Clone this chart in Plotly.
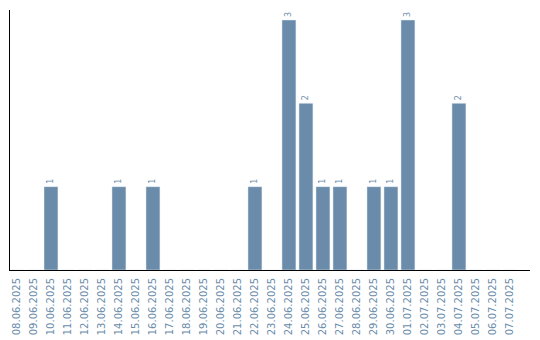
import plotly.graph_objects as go

dates = ["08.06.2025","09.06.2025","10.06.2025","11.06.2025","12.06.2025","13.06.2025",
         "14.06.2025","15.06.2025","16.06.2025","17.06.2025","18.06.2025","19.06.2025",
         "20.06.2025","21.06.2025","22.06.2025","23.06.2025","24.06.2025","25.06.2025",
         "26.06.2025","27.06.2025","28.06.2025","29.06.2025","30.06.2025","01.07.2025",
         "02.07.2025","03.07.2025","04.07.2025","05.07.2025","06.07.2025","07.07.2025"]
counts = [0,0,1,0,0,0,1,0,1,0,0,0,0,0,1,0,3,2,1,1,0,1,1,3,0,0,2,0,0,0]

color = "#6a8caa"
labels = [str(v) if v > 0 else "" for v in counts]

fig = go.Figure(go.Bar(
    x=dates, y=counts, marker_color=color, text=labels,
    textposition="outside", textangle=-90, cliponaxis=False,
    textfont=dict(family="DejaVu Sans", size=8, color=color),
))
fig.update_layout(
    width=540, height=340, margin=dict(l=10, r=10, t=10, b=70),
    plot_bgcolor="white", paper_bgcolor="white", bargap=0.18,
    showlegend=False,
    font=dict(family="DejaVu Sans", size=10, color=color),
)
fig.update_xaxes(type="category", range=[-0.41, 30.18], tickangle=-90,
                 showline=True, linecolor="black", linewidth=1, ticks="",
                 ticklabelstandoff=3, automargin=False,
                 showgrid=False, tickfont=dict(size=10, color=color))
fig.update_yaxes(range=[0, 3.12], showline=True, linecolor="black", linewidth=1,
                 showticklabels=False, ticks="", showgrid=False, zeroline=False,
                 automargin=False)
fig.write_html("out.html")
